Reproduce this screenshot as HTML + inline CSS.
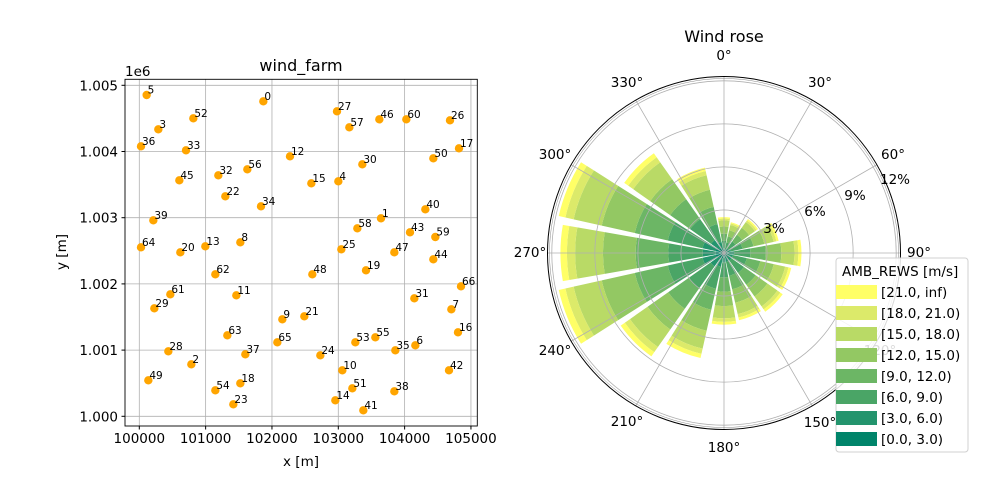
<!DOCTYPE html>
<html><head><meta charset="utf-8"><style>
body{margin:0;background:#fff}
svg{display:block;font-family:"DejaVu Sans","Liberation Sans",sans-serif}
</style></head><body>
<svg id="s" width="1000" height="500" viewBox="0 0 1000 500" xmlns="http://www.w3.org/2000/svg">
<rect width="1000" height="500" fill="#fff"/>
<g id="grid" stroke="#b0b0b0" stroke-width="0.8"></g>
<g id="pts"></g>
<rect x="125" y="79.3" width="352.3" height="346.7" fill="none" stroke="#000" stroke-width="0.9"/>
<g id="ticks" font-size="13.5" fill="#000"></g>
<text x="301" y="71" font-size="16" text-anchor="middle">wind_farm</text>
<text x="125" y="76" font-size="13.5">1e6</text>
<text x="301" y="466" font-size="13.5" text-anchor="middle">x [m]</text>
<text transform="translate(66,252) rotate(-90)" font-size="13.5" text-anchor="middle">y [m]</text>
<g id="rose"></g>
<text x="724" y="42" font-size="16" text-anchor="middle">Wind rose</text>
<g id="leg"></g>
</svg>
<script>
const NS="http://www.w3.org/2000/svg";
function el(p,t,a,txt){const e=document.createElementNS(NS,t);for(const k in a)e.setAttribute(k,a[k]);if(txt!==undefined)e.textContent=txt;p.appendChild(e);return e;}
const X=v=>139.3+(v-100000)*0.06633, Y=v=>416.3-(v-1.000)*66200;
const grid=document.getElementById('grid'), tk=document.getElementById('ticks');
for(let i=0;i<=5;i++){const x=X(100000+1000*i);el(grid,'line',{x1:x,x2:x,y1:79.3,y2:426});
 el(tk,'line',{x1:x,x2:x,y1:426,y2:429.5,stroke:'#000'});
 el(tk,'text',{x:x,y:443,'text-anchor':'middle'},String(100000+1000*i));
 const y=Y(1+0.001*i);el(grid,'line',{x1:125,x2:477.3,y1:y,y2:y});
 el(tk,'line',{x1:121.5,x2:125,y1:y,y2:y,stroke:'#000'});
 el(tk,'text',{x:118,y:y+5,'text-anchor':'end'},(1+0.001*i).toFixed(3));}
const P=[[5,200,75],[0,550,94],[27,771,124],[46,898,148],[60,979,148],[26,1110,151],[52,340,145],[57,808,172],[3,235,178],[36,183,229],[33,318,241],[17,1137,235],[12,630,259],[50,1060,265],[30,847,283],[56,502,298],[32,415,316],[45,298,331],[15,694,340],[4,775,334],[22,436,379],[34,543,409],[40,1036,418],[1,903,445],[39,220,451],[58,832,475],[43,990,487],[59,1066,501],[64,183,532],[20,301,547],[13,376,529],[8,481,517],[25,784,538],[47,943,547],[44,1060,568],[62,406,613],[48,697,613],[19,858,601],[66,1143,649],[61,271,673],[11,469,676],[31,1003,685],[29,223,715],[7,1114,718],[9,607,748],[21,673,739],[16,1134,787],[63,442,796],[65,592,817],[53,826,817],[55,886,802],[35,946,841],[6,1006,826],[28,265,844],[37,496,853],[24,721,856],[2,334,883],[10,787,901],[42,1107,901],[49,205,931],[18,481,940],[54,406,961],[51,817,955],[38,943,964],[14,766,991],[23,460,1003],[41,850,1021]];
const pts=document.getElementById('pts');
P.forEach(([n,zx,zy])=>{const x=80+zx/3,y=70+zy/3;el(pts,'circle',{cx:x,cy:y,r:4.2,fill:'#ffa500'});});
P.forEach(([n,zx,zy])=>{const x=80+zx/3,y=70+zy/3;el(pts,'text',{x:x+1,y:y-1.5,'font-size':10.5},String(n));});
const cx=724,cy=253,S=14.35,R=176.5;
const rose=document.getElementById('rose');
el(rose,'circle',{cx,cy,r:R,fill:'#fff'});
const totals=[2.5,2.2,2.9,3.9,5.4,4.8,5.0,4.8,5.0,7.5,8.8,11.8,11.4,11.8,8.5,6.1];
const cum=[0.05,0.13,0.34,0.54,0.74,0.91,0.96,1.0];
const cols=['#00846a','#23946d','#4aa566','#6cb665','#93c863','#b9da66','#dcea6a','#ffff66'];
function pt(a,r){const t=a*Math.PI/180;return [cx+r*Math.sin(t),cy-r*Math.cos(t)];}
function wedge(a0,a1,r0,r1,c){const p1=pt(a0,r1),p2=pt(a1,r1),p3=pt(a1,r0),p4=pt(a0,r0);
 el(rose,'path',{d:`M${p4}L${p1}A${r1},${r1} 0 0 1 ${p2}L${p3}A${r0},${r0} 0 0 0 ${p4}Z`,fill:c});}
totals.forEach((T,i)=>{const a=i*22.5;let prev=0;cum.forEach((f,k)=>{const r=T*f*S;wedge(a-9.9,a+9.9,prev,r,cols[k]);prev=r;});});
for(let a=0;a<360;a+=30){const p=pt(a,R);el(rose,'line',{x1:cx,y1:cy,x2:p[0],y2:p[1],stroke:'#b0b0b0','stroke-width':0.8});}
[3,6,9,12].forEach(v=>el(rose,'circle',{cx,cy,r:v*S,fill:'none',stroke:'#b0b0b0','stroke-width':0.8}));
el(rose,'circle',{cx,cy,r:R,fill:'none',stroke:'#000','stroke-width':1});
el(rose,'circle',{cx,cy,r:R-2,fill:'none',stroke:'#888','stroke-width':0.5});
const al=[[0,724,60],[30,820,87],[60,893,159],[90,919,257],[120,880,355],[150,820,427],[180,724,452],[210,627,426],[240,555,355],[270,530,257],[300,555,159],[330,627,87]];
al.forEach(([a,x,y])=>el(rose,'text',{x,y,'font-size':13.5,'text-anchor':'middle'},a+'°'));
[['3%',774,233],['6%',815,216],['9%',855,200],['12%',895,184]].forEach(([t,x,y])=>el(rose,'text',{x,y,'font-size':13.5,'text-anchor':'middle'},t));
const leg=document.getElementById('leg');
el(leg,'rect',{x:836,y:258,width:132,height:194,rx:3,fill:'#fff','fill-opacity':0.85,stroke:'#d0d0d0'});
el(leg,'text',{x:842,y:276,'font-size':13.5},'AMB_REWS [m/s]');
const labs=['[21.0, inf)','[18.0, 21.0)','[15.0, 18.0)','[12.0, 15.0)','[9.0, 12.0)','[6.0, 9.0)','[3.0, 6.0)','[0.0, 3.0)'];
labs.forEach((t,i)=>{const y=292+i*21;el(leg,'rect',{x:836,y:y-7,width:41,height:14,fill:cols[7-i]});
 el(leg,'text',{x:881,y:y+5,'font-size':13.5},t);});
</script>
</body></html>
